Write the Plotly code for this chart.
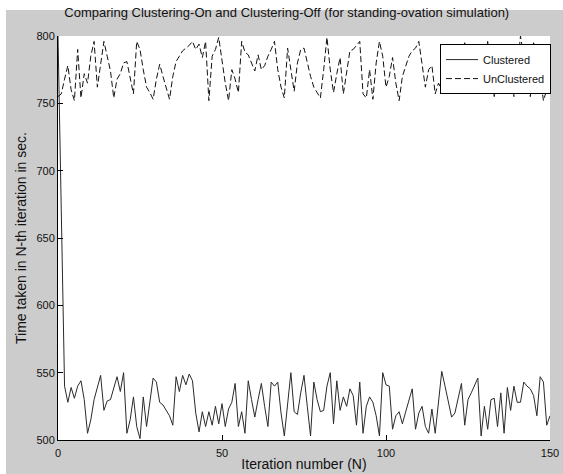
import plotly.graph_objects as go

iterations = list(range(0, 151))

clustered = [
    800, 670, 540, 528, 539, 531, 540, 544, 530, 505,
    515, 530, 540, 548, 522, 529, 530, 538, 547, 536,
    550, 505, 515, 532, 510, 501, 532, 510, 530, 546,
    543, 528, 526, 522, 518, 511, 547, 536, 548, 541,
    549, 544, 520, 506, 521, 510, 521, 511, 525, 512,
    527, 510, 523, 528, 542, 510, 521, 505, 544, 530,
    517, 530, 542, 525, 510, 543, 540, 543, 520, 503,
    528, 550, 521, 519, 535, 548, 525, 503, 543, 530,
    521, 522, 540, 550, 512, 544, 522, 532, 525, 538,
    533, 511, 543, 505, 525, 532, 528, 518, 503, 550,
    541, 540, 508, 518, 521, 512, 521, 530, 538, 508,
    520, 525, 510, 505, 523, 505, 530, 551, 540, 527,
    517, 520, 530, 542, 511, 530, 535, 540, 546, 503,
    525, 508, 530, 531, 510, 535, 505, 539, 522, 540,
    528, 528, 543, 540, 538, 533, 518, 547, 543, 511,
    518,
]

unclustered = [
    755, 757, 768, 778, 760, 752, 790, 754, 772, 765,
    785, 796, 762, 780, 796, 785, 774, 754, 768, 772,
    780, 781, 770, 757, 796, 790, 775, 762, 758, 753,
    768, 779, 770, 762, 753, 770, 781, 785, 789, 791,
    793, 796, 790, 794, 784, 796, 752, 785, 790, 799,
    780, 765, 752, 775, 768, 758, 796, 788, 786, 780,
    774, 786, 775, 778, 785, 790, 796, 775, 762, 754,
    791, 775, 759, 780, 790, 791, 780, 770, 762, 758,
    754, 775, 799, 775, 758, 772, 784, 757, 775, 789,
    790, 793, 796, 757, 754, 775, 753, 780, 796, 785,
    762, 770, 784, 765, 752, 770, 778, 785, 789, 791,
    796, 780, 762, 775, 778, 757, 765, 760, 775, 768,
    780, 772, 765, 775, 795, 770, 762, 780, 770, 768,
    778, 796, 775, 755, 770, 780, 772, 790, 785, 755,
    775, 800, 785, 770, 755, 795, 780, 770, 752, 760,
    772,
]

x_ticks = [0, 50, 100, 150]
y_ticks = [500, 550, 600, 650, 700, 750, 800]

FONT = "Liberation Sans, Arial, Helvetica, sans-serif"

fig = go.Figure()
fig.add_trace(go.Scatter(
    x=iterations, y=clustered, mode="lines", name="Clustered",
    line=dict(color="#2a2a2a", width=1),
))
fig.add_trace(go.Scatter(
    x=iterations, y=unclustered, mode="lines", name="UnClustered",
    line=dict(color="#111111", width=1, dash="6px,3px"),
))

# grey figure panel and white axes area (MATLAB style)
fig.add_shape(type="rect", xref="paper", yref="paper",
              x0=-0.1057, x1=1.0264, y0=-0.0842, y1=1.0644,
              fillcolor="#cccccc", line=dict(width=0), layer="below")
fig.add_shape(type="rect", xref="paper", yref="paper",
              x0=0, x1=1, y0=0, y1=1,
              fillcolor="white", line=dict(width=0), layer="below")

fig.update_layout(
    width=563, height=474,
    margin=dict(l=58, r=13, t=36, b=34),
    paper_bgcolor="white", plot_bgcolor="white",
    font=dict(family=FONT, size=11, color="#111111"),
    title=dict(
        text="Comparing Clustering-On and Clustering-Off (for standing-ovation simulation)",
        x=0.465, xanchor="center", xref="paper", y=0.974, yanchor="middle", yref="container",
        font=dict(family=FONT, size=13, color="#111111"),
    ),
    showlegend=True,
    legend=dict(
        x=0.7764, y=0.98, xanchor="left", yanchor="top",
        bgcolor="white", bordercolor="black", borderwidth=1,
        font=dict(family=FONT, size=11, color="#111111"),
        tracegroupgap=0, itemwidth=32,
    ),
    xaxis=dict(
        range=[0, 150], tickvals=x_ticks, ticktext=[str(v) for v in x_ticks],
        ticks="inside", ticklen=5, tickcolor="black", ticklabelstandoff=3,
        showline=True, linecolor="black", linewidth=1,
        showgrid=False, zeroline=False, mirror=False, automargin=False,
        title=dict(text="Iteration number (N)", standoff=0,
                   font=dict(family=FONT, size=14, color="#111111")),
        tickfont=dict(family=FONT, size=11, color="#111111"),
    ),
    yaxis=dict(
        range=[500, 800], tickvals=y_ticks, ticktext=[str(v) for v in y_ticks],
        ticks="inside", ticklen=5, tickcolor="black",
        showline=True, linecolor="black", linewidth=1,
        showgrid=False, zeroline=False, mirror=False, automargin=False,
        title=dict(text="Time taken in N-th iteration in sec.", standoff=6,
                   font=dict(family=FONT, size=14, color="#111111")),
        tickfont=dict(family=FONT, size=11, color="#111111"),
    ),
)

fig.write_html("out.html")
